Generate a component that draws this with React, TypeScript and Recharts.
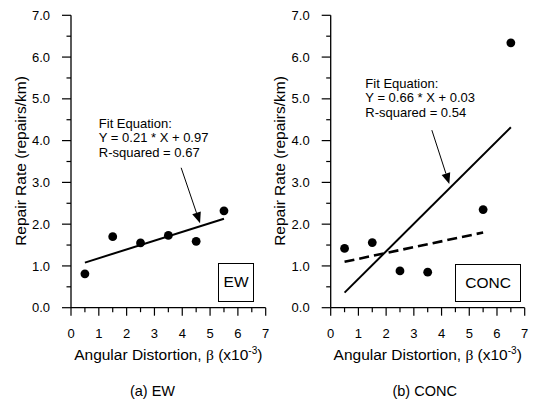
import React from "react";
import {
  ReferenceDot,
  ReferenceLine,
  Scatter,
  ScatterChart,
  XAxis,
  YAxis,
} from "recharts";

const xTicks = [0, 0.5, 1, 1.5, 2, 2.5, 3, 3.5, 4, 4.5, 5, 5.5, 6, 6.5, 7];
const yTicks = [0, 0.5, 1, 1.5, 2, 2.5, 3, 3.5, 4, 4.5, 5, 5.5, 6, 6.5, 7];

const ewPoints = [
  { x: 0.5, y: 0.81 },
  { x: 1.5, y: 1.7 },
  { x: 2.5, y: 1.55 },
  { x: 3.5, y: 1.73 },
  { x: 4.5, y: 1.59 },
  { x: 5.5, y: 2.32 },
];
const ewFit = [
  { x: 0.5, y: 1.08 },
  { x: 5.5, y: 2.13 },
];
const ewNote = ["Fit Equation:", "Y = 0.21 * X + 0.97", "R-squared = 0.67"];
const ewNoteAt = { x: 1.0, y: 4.31 };
const ewArrow = [
  { x: 3.96, y: 3.35 },
  { x: 4.64, y: 2.02 },
];

const concPoints = [
  { x: 0.5, y: 1.42 },
  { x: 1.5, y: 1.56 },
  { x: 2.5, y: 0.88 },
  { x: 3.5, y: 0.85 },
  { x: 5.5, y: 2.35 },
  { x: 6.5, y: 6.34 },
];
const concFit = [
  { x: 0.5, y: 0.36 },
  { x: 6.5, y: 4.32 },
];
const concDashed = [
  { x: 0.5, y: 1.1 },
  { x: 5.5, y: 1.8 },
];
const concNote = ["Fit Equation:", "Y = 0.66 * X + 0.03", "R-squared = 0.54"];
const concNoteAt = { x: 1.25, y: 5.27 };
const concArrow = [
  { x: 3.65, y: 4.25 },
  { x: 4.28, y: 2.96 },
];

const FONT = "'Liberation Sans', Arial, sans-serif";

function YTick({ x, y, payload }: any) {
  const major = Number.isInteger(payload.value);
  return (
    <g>
      <line x1={x} x2={x - (major ? 9 : 4.5)} y1={y} y2={y} stroke="#000" strokeWidth={1.2} />
      {major ? (
        <text x={x - 21} y={y} dy={4.6} textAnchor="end" fontSize={13} fontFamily={FONT} fill="#000">
          {payload.value.toFixed(1)}
        </text>
      ) : null}
    </g>
  );
}

function XTick({ x, y, payload }: any) {
  const major = Number.isInteger(payload.value);
  return (
    <g>
      <line x1={x} x2={x} y1={y} y2={y + (major ? 8 : 4.5)} stroke="#000" strokeWidth={1.2} />
      {major ? (
        <text x={x} y={y + 30} textAnchor="middle" fontSize={13} fontFamily={FONT} fill="#000">
          {payload.value}
        </text>
      ) : null}
    </g>
  );
}

function Arrow(props: any) {
  const { x1, y1, x2, y2 } = props;
  const dx = x2 - x1;
  const dy = y2 - y1;
  const len = Math.hypot(dx, dy);
  const ux = dx / len;
  const uy = dy / len;
  const bx = x2 - ux * 11;
  const by = y2 - uy * 11;
  return (
    <g>
      <line x1={x1} y1={y1} x2={bx} y2={by} stroke="#000" strokeWidth={1} />
      <polygon
        points={`${x2},${y2} ${bx - uy * 4.5},${by + ux * 4.5} ${bx + uy * 4.5},${by - ux * 4.5}`}
        fill="#000"
      />
    </g>
  );
}

function noteShape(lines: string[]) {
  return (p: any) => (
    <text x={p.cx} y={p.cy} fontSize={13} fontFamily={FONT} fill="#000">
      {lines.map((t, i) => (
        <tspan key={i} x={p.cx} dy={i === 0 ? 0 : 14.6}>
          {t}
        </tspan>
      ))}
    </text>
  );
}

const dot = (p: any) => <circle cx={p.cx} cy={p.cy} r={4.4} fill="#000" />;
const none = () => <g />;

interface PanelProps {
  left: number;
  yWidth: number;
  rightMargin: number;
  points: { x: number; y: number }[];
  fit: { x: number; y: number }[];
  dashed?: { x: number; y: number }[];
  note: string[];
  noteAt: { x: number; y: number };
  arrow: { x: number; y: number }[];
}

function Panel({ left, yWidth, rightMargin, points, fit, dashed, note, noteAt, arrow }: PanelProps) {
  return (
    <div style={{ position: "absolute", left, top: 0 }}>
      <ScatterChart
        width={270}
        height={350}
        margin={{ top: 15.3, right: rightMargin, bottom: 2.3, left: 0 }}
      >
        <XAxis
          type="number"
          dataKey="x"
          domain={[0, 7]}
          ticks={xTicks}
          interval={0}
          height={40}
          tickSize={0}
          tickMargin={0}
          tickLine={false}
          tick={<XTick />}
          axisLine={{ stroke: "#000", strokeWidth: 1.3 }}
        />
        <YAxis
          type="number"
          dataKey="y"
          domain={[0, 7]}
          ticks={yTicks}
          interval={0}
          width={yWidth}
          tickSize={0}
          tickMargin={0}
          tickLine={false}
          tick={<YTick />}
          axisLine={{ stroke: "#000", strokeWidth: 1.3 }}
        />
        <Scatter
          data={fit}
          line={{ stroke: "#000", strokeWidth: 2 }}
          shape={none}
          isAnimationActive={false}
        />
        {dashed ? (
          <Scatter
            data={dashed}
            line={{ stroke: "#000", strokeWidth: 2.6, strokeDasharray: "10 5" }}
            shape={none}
            isAnimationActive={false}
          />
        ) : null}
        <Scatter data={points} shape={dot} isAnimationActive={false} />
        <ReferenceLine
          segment={[arrow[0], arrow[1]]}
          shape={Arrow}
          ifOverflow="visible"
        />
        <ReferenceDot x={noteAt.x} y={noteAt.y} r={0} shape={noteShape(note)} ifOverflow="visible" />
      </ScatterChart>
    </div>
  );
}

const text: React.CSSProperties = {
  position: "absolute",
  fontFamily: FONT,
  color: "#000",
  textAlign: "center",
  whiteSpace: "nowrap",
};

function XTitle({ cx }: { cx: number }) {
  return (
    <div style={{ ...text, left: cx - 120, width: 240, top: 346, fontSize: 15.5, lineHeight: "18px" }}>
      Angular Distortion, <span style={{ fontFamily: "'Liberation Serif', serif" }}>β</span> (x10
      <span style={{ fontSize: 10, verticalAlign: 6, lineHeight: 0 }}>-3</span>)
    </div>
  );
}

function YTitle({ cx }: { cx: number }) {
  return (
    <div
      style={{
        ...text,
        left: cx - 120,
        width: 240,
        top: 161 - 9,
        height: 18,
        fontSize: 15.5,
        lineHeight: "18px",
        transform: "rotate(-90deg)",
      }}
    >
      Repair Rate (repairs/km)
    </div>
  );
}

function Box({ left, top, width, height, label }: any) {
  return (
    <div
      style={{
        ...text,
        left,
        top,
        width,
        height,
        boxSizing: "border-box",
        border: "1.3px solid #000",
        background: "#fff",
        fontSize: 15.5,
        lineHeight: `${height - 2}px`,
      }}
    >
      {label}
    </div>
  );
}

export default function App() {
  return (
    <div
      style={{
        position: "fixed",
        left: 0,
        top: 0,
        width: 533,
        height: 401,
        background: "#fff",
        overflow: "hidden",
      }}
    >
      <Panel
        left={0}
        yWidth={71}
        rightMargin={4.3}
        points={ewPoints}
        fit={ewFit}
        note={ewNote}
        noteAt={ewNoteAt}
        arrow={ewArrow}
      />
      <Panel
        left={263}
        yWidth={67.7}
        rightMargin={8.3}
        points={concPoints}
        fit={concFit}
        dashed={concDashed}
        note={concNote}
        noteAt={concNoteAt}
        arrow={concArrow}
      />
      <Box left={217.7} top={263.3} width={36.8} height={38.4} label="EW" />
      <Box left={454.7} top={264} width={66.8} height={37.8} label="CONC" />
      <XTitle cx={168.3} />
      <XTitle cx={427.7} />
      <YTitle cx={20.5} />
      <YTitle cx={280} />
      <div style={{ ...text, left: 52.5, width: 200, top: 382, fontSize: 14.5, lineHeight: "18px" }}>(a) EW</div>
      <div style={{ ...text, left: 324.7, width: 200, top: 382, fontSize: 14.5, lineHeight: "18px" }}>(b) CONC</div>
    </div>
  );
}
